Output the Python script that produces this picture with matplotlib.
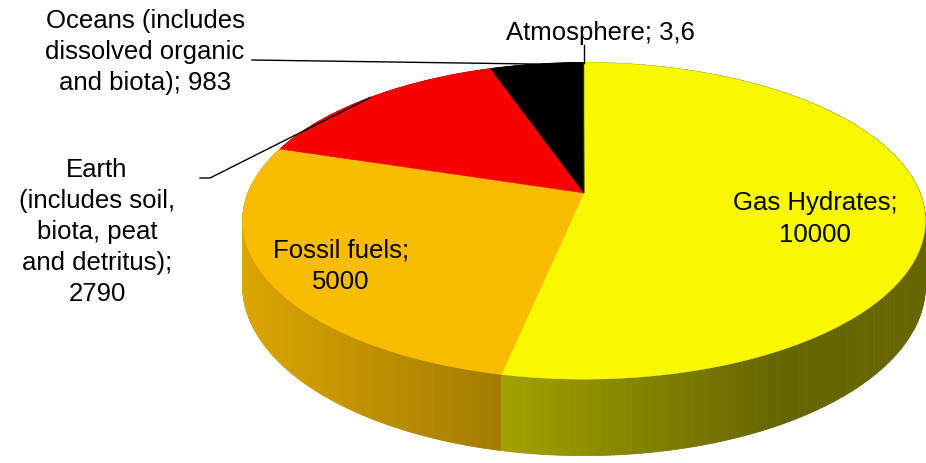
import matplotlib.pyplot as plt
import numpy as np
from matplotlib.collections import PolyCollection
from matplotlib.colors import to_rgb

# carbon stores, clockwise from 12 o'clock
names = ['Gas Hydrates', 'Fossil fuels',
         'Earth\n(includes soil,\nbiota, peat\nand detritus)',
         'Oceans (includes\ndissolved organic\nand biota)', 'Atmosphere']
values = [10000, 5000, 2790, 983, 3.6]
value_text = ['10000', '5000', '2790', '983', '3,6']
seps = ['\n', '\n', '\n', ' ', ' ']
colors = ['#f8f800', '#f9bc00', '#f80000', '#000000', '#303030']

# label anchor points (pixels)
label_pos = [(815, 219), (341, 266), (97, 232), (145, 52), (600, 33)]

W, H = 926, 463
CX, CY = 584, 193          # pie centre on screen
A, B = 336, 153.4          # half axes of the top face
P = 0.176                  # perspective strength
DEPTH = 63                 # thickness of the pie


def project(theta, drop=0.0):
    u, v = np.sin(theta), np.cos(theta)
    s = 1.0 / (1.0 + P * v)
    return CX + A * u * s, CY - B * v * s + drop * s


def shade(x):
    return np.clip(0.88 - 0.00089 * (x - 245), 0.41, 0.9)


plt.rcParams['font.family'] = ['Liberation Sans', 'DejaVu Sans']
fig = plt.figure(figsize=(W / 100, H / 100), dpi=100)
ax = fig.add_axes([0, 0, 1, 1])
ax.set_xlim(0, W)
ax.set_ylim(H, 0)
ax.axis('off')

vals = np.array(values, dtype=float)
edges = np.concatenate([[0], np.cumsum(vals)]) / vals.sum() * 2 * np.pi

# outer wall, built from thin strips shaded by horizontal position
strips, strip_cols, depth_key = [], [], []
for i, col in enumerate(colors):
    n = max(2, int(np.ceil((edges[i + 1] - edges[i]) / (2 * np.pi) * 720)))
    th = np.linspace(edges[i], edges[i + 1], n + 1)
    for t0, t1 in zip(th[:-1], th[1:]):
        x0, y0 = project(t0)
        x1, y1 = project(t1)
        x2, y2 = project(t1, DEPTH)
        x3, y3 = project(t0, DEPTH)
        strips.append([(x0, y0), (x1, y1), (x2, y2), (x3, y3)])
        f = shade((x0 + x1) / 2)
        c = tuple(np.array(to_rgb(col)) * f)
        strip_cols.append(c)
        depth_key.append(-np.cos((t0 + t1) / 2))
order = np.argsort(depth_key)
ax.add_collection(PolyCollection([strips[k] for k in order],
                                 facecolors=[strip_cols[k] for k in order],
                                 edgecolors=[strip_cols[k] for k in order],
                                 linewidths=0.6))

# top face
for i, col in enumerate(colors):
    th = np.linspace(edges[i], edges[i + 1], 200)
    xs, ys = project(th)
    ax.fill(np.r_[CX, xs], np.r_[CY, ys], color=col, lw=0.3, ec=col)

# labels
for i, (name, vt, sep) in enumerate(zip(names, value_text, seps)):
    x, y = label_pos[i]
    ax.text(x, y, f'{name};{sep}{vt}', ha='center', va='center',
            fontsize=18.5, linespacing=1.38, color='black')

# leader lines for the outside labels
mid = (edges[:-1] + edges[1:]) / 2
ex, ey = project(mid[2])
ax.plot([200, 210, ex], [178, 178, ey], color='black', lw=1)
ex, ey = project(mid[3])
ax.plot([252, ex], [60, ey], color='black', lw=1)
ex, ey = project(mid[4])
ax.plot([ex, ex], [45, ey], color='black', lw=1)

fig.savefig('out.png', dpi=100)
